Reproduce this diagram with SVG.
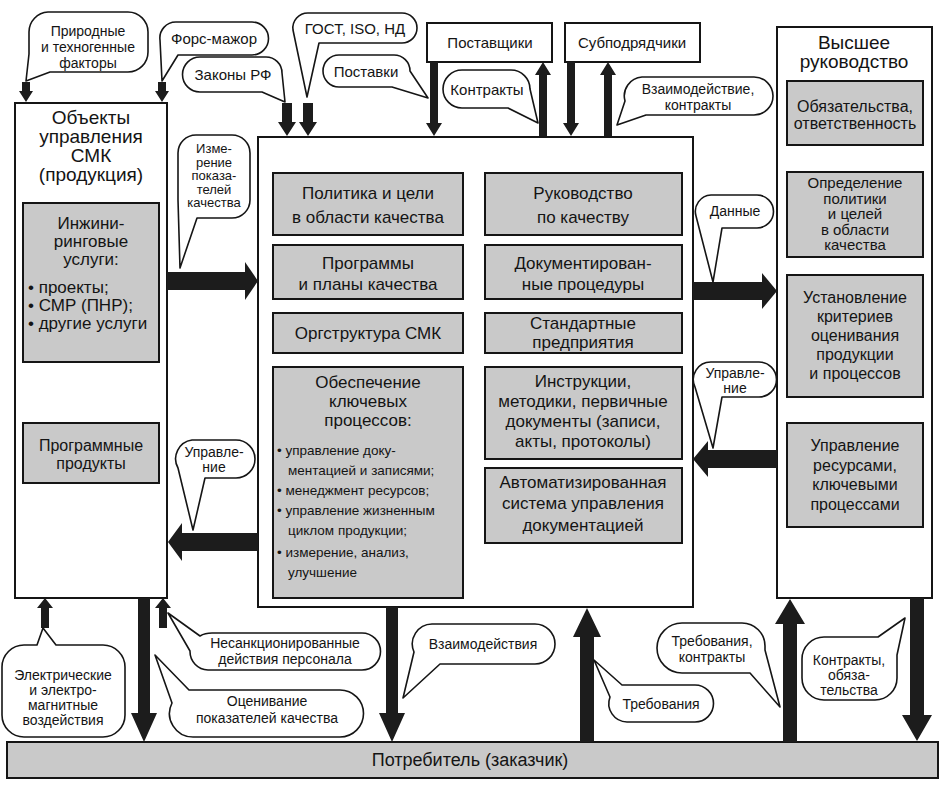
<svg xmlns="http://www.w3.org/2000/svg" width="944" height="790" viewBox="0 0 944 790">
<style>
.box{fill:#fff;stroke:#151515;stroke-width:2}
.g{fill:#c9c9c9;stroke:#151515;stroke-width:2}
.arr{fill:#1c1c1c}
.bub{fill:#fff;stroke:#151515;stroke-width:1.6;stroke-linejoin:round}
text{font-family:"Liberation Sans",Arial,sans-serif;fill:#141414;text-anchor:middle}
.t20{font-size:19px}
.t17{font-size:17px}
.t16{font-size:16px}
.t15{font-size:15px}
.t14{font-size:14px}
.t13{font-size:13px}
.s{font-size:13.5px;text-anchor:start}
</style>
<rect width="944" height="790" fill="#fff"/>

<g id="left">
<rect class="box" x="15" y="103" width="152" height="495"/>
<text class="t20" x="91" y="124">Объекты</text>
<text class="t20" x="91" y="143">управления</text>
<text class="t20" x="91" y="162">СМК</text>
<text class="t20" x="91" y="181">(продукция)</text>
</g>
<g id="engineering">
<rect class="g" x="23" y="203" width="136" height="159"/>
<text class="t17" x="91" y="229">Инжини-</text>
<text class="t17" x="91" y="247">ринговые</text>
<text class="t17" x="91" y="265">услуги:</text>
<text class="t17" x="28" y="293" style="text-anchor:start">• проекты;</text>
<text class="t17" x="28" y="311" style="text-anchor:start">• СМР (ПНР);</text>
<text class="t17" x="28" y="329" style="text-anchor:start">• другие услуги</text>
</g>
<g id="software">
<rect class="g" x="23" y="423" width="136" height="60"/>
<text class="t16" x="91" y="451">Программные</text>
<text class="t16" x="91" y="469">продукты</text>
</g>

<g id="center">
<rect class="box" x="258" y="137" width="435" height="470"/>
</g>
<g id="policy">
<rect class="g" x="273" y="173" width="190" height="62"/>
<text class="t17" x="368" y="199">Политика и цели</text>
<text class="t17" x="368" y="223">в области качества</text>
</g>
<g id="manual">
<rect class="g" x="485" y="173" width="197" height="62"/>
<text class="t17" x="583" y="199">Руководство</text>
<text class="t17" x="583" y="223">по качеству</text>
</g>
<g id="programs">
<rect class="g" x="273" y="245" width="190" height="54"/>
<text class="t17" x="368" y="269">Программы</text>
<text class="t17" x="368" y="290">и планы качества</text>
</g>
<g id="procedures">
<rect class="g" x="485" y="245" width="197" height="54"/>
<text class="t17" x="583" y="269">Документирован-</text>
<text class="t17" x="583" y="290">ные процедуры</text>
</g>
<g id="orgstructure">
<rect class="g" x="273" y="313" width="190" height="40"/>
<text class="t17" x="368" y="339">Оргструктура СМК</text>
</g>
<g id="standards">
<rect class="g" x="485" y="313" width="197" height="40"/>
<text class="t17" x="583" y="329">Стандартные</text>
<text class="t17" x="583" y="348">предприятия</text>
</g>
<g id="keyprocesses">
<rect class="g" x="273" y="367" width="190" height="231"/>
<text class="t17" x="368" y="388">Обеспечение</text>
<text class="t17" x="368" y="407">ключевых</text>
<text class="t17" x="368" y="426">процессов:</text>
<text class="s" x="277" y="455">•  управление доку-</text>
<text class="s" x="288" y="475">ментацией и записями;</text>
<text class="s" x="277" y="495">•  менеджмент ресурсов;</text>
<text class="s" x="277" y="515">•  управление жизненным</text>
<text class="s" x="288" y="535">циклом продукции;</text>
<text class="s" x="277" y="557">•  измерение, анализ,</text>
<text class="s" x="288" y="577">улучшение</text>
</g>
<g id="instructions">
<rect class="g" x="485" y="367" width="197" height="92"/>
<text class="t17" x="583" y="387">Инструкции,</text>
<text class="t17" x="583" y="407">методики, первичные</text>
<text class="t17" x="583" y="427">документы (записи,</text>
<text class="t17" x="583" y="447">акты, протоколы)</text>
</g>
<g id="autosystem">
<rect class="g" x="485" y="468" width="197" height="75"/>
<text class="t17" x="583" y="488">Автоматизированная</text>
<text class="t17" x="583" y="509">система управления</text>
<text class="t17" x="583" y="531">документацией</text>
</g>

<g id="top-management">
<rect class="box" x="777" y="27" width="155" height="571"/>
<text class="t20" x="854" y="49">Высшее</text>
<text class="t20" x="854" y="68">руководство</text>
</g>
<g id="commitments">
<rect class="g" x="787" y="81" width="136" height="64"/>
<text class="t16" x="855" y="112">Обязательства,</text>
<text class="t16" x="855" y="129">ответственность</text>
</g>
<g id="definition">
<rect class="g" x="787" y="172" width="136" height="85"/>
<text class="t15" x="855" y="188">Определение</text>
<text class="t15" x="855" y="203.5">политики</text>
<text class="t15" x="855" y="219">и целей</text>
<text class="t15" x="855" y="234.5">в области</text>
<text class="t15" x="855" y="250">качества</text>
</g>
<g id="criteria">
<rect class="g" x="787" y="275" width="136" height="122"/>
<text class="t16" x="855" y="303">Установление</text>
<text class="t16" x="855" y="322">критериев</text>
<text class="t16" x="855" y="341">оценивания</text>
<text class="t16" x="855" y="360">продукции</text>
<text class="t16" x="855" y="379">и процессов</text>
</g>
<g id="resources">
<rect class="g" x="787" y="423" width="136" height="104"/>
<text class="t16" x="855" y="451">Управление</text>
<text class="t16" x="855" y="471">ресурсами,</text>
<text class="t16" x="855" y="490">ключевыми</text>
<text class="t16" x="855" y="510">процессами</text>
</g>

<g id="suppliers">
<rect class="box" x="427" y="23" width="125" height="39"/>
<text class="t15" x="490" y="48">Поставщики</text>
</g>
<g id="subcontractors">
<rect class="box" x="565" y="23" width="135" height="39"/>
<text class="t15" x="632" y="48">Субподрядчики</text>
</g>

<g id="consumer">
<rect class="g" x="7" y="742" width="931" height="36"/>
<text class="t17" x="470" y="766" style="font-size:18px">Потребитель (заказчик)</text>
</g>

<g id="connectors">
<polygon class="arr" points="22,82 30,82 30,91 33,91 26,102 19,91 22,91"/>
<polygon class="arr" points="158,82 166,82 166,91 169,91 162,102 155,91 158,91"/>
<polygon class="arr" points="282,103 292,103 292,122 296,122 287,136 278,122 282,122"/>
<polygon class="arr" points="303,103 313,103 313,122 317,122 308,136 299,122 303,122"/>
<polygon class="arr" points="430,62 438,62 438,123 442,123 434,136 426,123 430,123"/>
<polygon class="arr" points="539,136 547,136 547,75 551,75 543,62 535,75 539,75"/>
<polygon class="arr" points="567,62 575,62 575,123 579,123 571,136 563,123 567,123"/>
<polygon class="arr" points="604,136 612,136 612,75 616,75 608,62 600,75 604,75"/>
<polygon class="arr" points="167,272 245,272 245,262 258,281 245,300 245,290 167,290"/>
<polygon class="arr" points="258,533 182,533 182,523 168,542 182,561 182,551 258,551"/>
<polygon class="arr" points="693,282 762,282 762,273 777,291 762,309 762,300 693,300"/>
<polygon class="arr" points="777,450 708,450 708,441 693,459 708,477 708,468 777,468"/>
<polygon class="arr" points="41,628 49,628 49,608 53,608 45,598 37,608 41,608"/>
<polygon class="arr" points="159,628 167,628 167,608 171,608 163,598 155,608 159,608"/>
<polygon class="arr" points="138,598 150,598 150,713 157,713 144,742 131,713 138,713"/>
<polygon class="arr" points="386,607 398,607 398,713 405,713 392,742 379,713 386,713"/>
<polygon class="arr" points="580,742 594,742 594,637 601,637 587,608 573,637 580,637"/>
<polygon class="arr" points="783,742 797,742 797,624 805,624 790,599 775,624 783,624"/>
<polygon class="arr" points="910,598 924,598 924,715 932,715 917,741 902,715 910,715"/>
</g>

<g id="callout-natural">
<path class="bub" d="M48,12 H128 A20 20 0 0 1 148,32 V52 A20 20 0 0 1 128,72 H50 L26,81 L29,54 V32 A20 20 0 0 1 48,12 Z"/>
<text class="t14" x="88" y="36">Природные</text>
<text class="t14" x="88" y="52">и техногенные</text>
<text class="t14" x="88" y="68">факторы</text>
</g>
<g id="callout-force">
<path class="bub" d="M176,22 H252 A16.5 16.5 0 0 1 252,55 H178 L162,81 L160,40 A16 16 0 0 1 176,22 Z"/>
<text class="t15" x="214" y="44">Форс-мажор</text>
</g>
<g id="callout-laws">
<path class="bub" d="M200,57 H266 A16 16 0 0 1 282,73 L285,102 L262,92 H200 A17.5 17.5 0 0 1 200,57 Z"/>
<text class="t15" x="233" y="80">Законы РФ</text>
</g>
<g id="callout-gost">
<path class="bub" d="M308,13 H402 A15 15 0 0 1 402,43 H319 L307,97 L293,30 A15 15 0 0 1 308,13 Z"/>
<text class="t15" x="355" y="34">ГОСТ, ISO, НД</text>
</g>
<g id="callout-deliveries">
<path class="bub" d="M339,55 H394 A16 16 0 0 1 410,71 L428,98 L392,87 H339 A16 16 0 0 1 339,55 Z"/>
<text class="t15" x="366" y="77">Поставки</text>
</g>
<g id="callout-contracts">
<path class="bub" d="M462,70 H511 A19 19 0 0 1 530,89 L538,123 L508,108 H462 A19 19 0 0 1 462,70 Z"/>
<text class="t15" x="487" y="95">Контракты</text>
</g>
<g id="callout-interaction-top">
<path class="bub" d="M642,77 H754 A19 19 0 0 1 754,115 H646 L617,125 L625,101 A19 19 0 0 1 642,77 Z"/>
<text class="t14" x="698" y="94">Взаимодействие,</text>
<text class="t14" x="698" y="110">контракты</text>
</g>
<g id="callout-measure">
<path class="bub" d="M196,135 H232 A18 18 0 0 1 250,153 V200 A18 18 0 0 1 232,218 H197 L180,268 L178,200 V153 A18 18 0 0 1 196,135 Z"/>
<text class="t13" x="214" y="153">Изме-</text>
<text class="t13" x="214" y="166.5">рение</text>
<text class="t13" x="214" y="180">показа-</text>
<text class="t13" x="214" y="193.5">телей</text>
<text class="t13" x="214" y="207">качества</text>
</g>
<g id="callout-data">
<path class="bub" d="M711,195 H757 A16.5 16.5 0 0 1 757,228 H722 L713,282 L696,216 A16.5 16.5 0 0 1 711,195 Z"/>
<text class="t14" x="735" y="216">Данные</text>
</g>
<g id="callout-control-right">
<path class="bub" d="M711,362 H759 A17.5 17.5 0 0 1 759,397 H722 L713,448 L695,387 A17.5 17.5 0 0 1 711,362 Z"/>
<text class="t14" x="735" y="378">Управле-</text>
<text class="t14" x="735" y="393">ние</text>
</g>
<g id="callout-control-left">
<path class="bub" d="M192,440 H236 A19 19 0 0 1 236,478 H205 L193,530 L178,468 A19 19 0 0 1 192,440 Z"/>
<text class="t14" x="214" y="457">Управле-</text>
<text class="t14" x="214" y="472">ние</text>
</g>
<g id="callout-unauthorized">
<path class="bub" d="M212,633 H362 A18.5 18.5 0 0 1 362,670 H208 A18.5 18.5 0 0 1 190,651 L168,613 L200,636 Q205,633 212,633 Z"/>
<text class="t14" x="285" y="648">Несанкционированные</text>
<text class="t14" x="285" y="664">действия персонала</text>
</g>
<g id="callout-evaluation">
<path class="bub" d="M193,690 H340 A23.5 23.5 0 0 1 340,737 H193 A23.5 23.5 0 0 1 172,703 L155,655 L189,690 Z"/>
<text class="t14" x="267" y="706">Оценивание</text>
<text class="t14" x="267" y="723">показателей качества</text>
</g>
<g id="callout-electric">
<path class="bub" d="M24,645 H37 L43,628 L56,645 H103 A22 22 0 0 1 125,667 V715 A22 22 0 0 1 103,737 H24 A22 22 0 0 1 2,715 V667 A22 22 0 0 1 24,645 Z"/>
<text class="t14" x="63" y="680">Электрические</text>
<text class="t14" x="63" y="695">и электро-</text>
<text class="t14" x="63" y="710">магнитные</text>
<text class="t14" x="63" y="725">воздействия</text>
</g>
<g id="callout-interactions">
<path class="bub" d="M432,624 H535 A20 20 0 0 1 535,664 H440 L403,698 L414,652 A20 20 0 0 1 432,624 Z"/>
<text class="t14" x="483" y="649">Взаимодействия</text>
</g>
<g id="callout-requirements">
<path class="bub" d="M627,685 H695 A18.5 18.5 0 0 1 695,722 H627 A18.5 18.5 0 0 1 610,697 L594,660 L622,685 Z"/>
<text class="t14" x="661" y="709">Требования</text>
</g>
<g id="callout-req-contracts">
<path class="bub" d="M682,623 H742 A23 23 0 0 1 765,646 V650 L780,707 L750,673 H682 A25 25 0 0 1 682,623 Z"/>
<text class="t14" x="712" y="646">Требования,</text>
<text class="t14" x="712" y="662">контракты</text>
</g>
<g id="callout-obligations">
<path class="bub" d="M824,637 H878 L905,618 L897,655 V678 A22 22 0 0 1 875,700 H824 A22 22 0 0 1 802,678 V659 A22 22 0 0 1 824,637 Z"/>
<text class="t14" x="849" y="665">Контракты,</text>
<text class="t14" x="849" y="680">обяза-</text>
<text class="t14" x="849" y="695">тельства</text>
</g>
</svg>
